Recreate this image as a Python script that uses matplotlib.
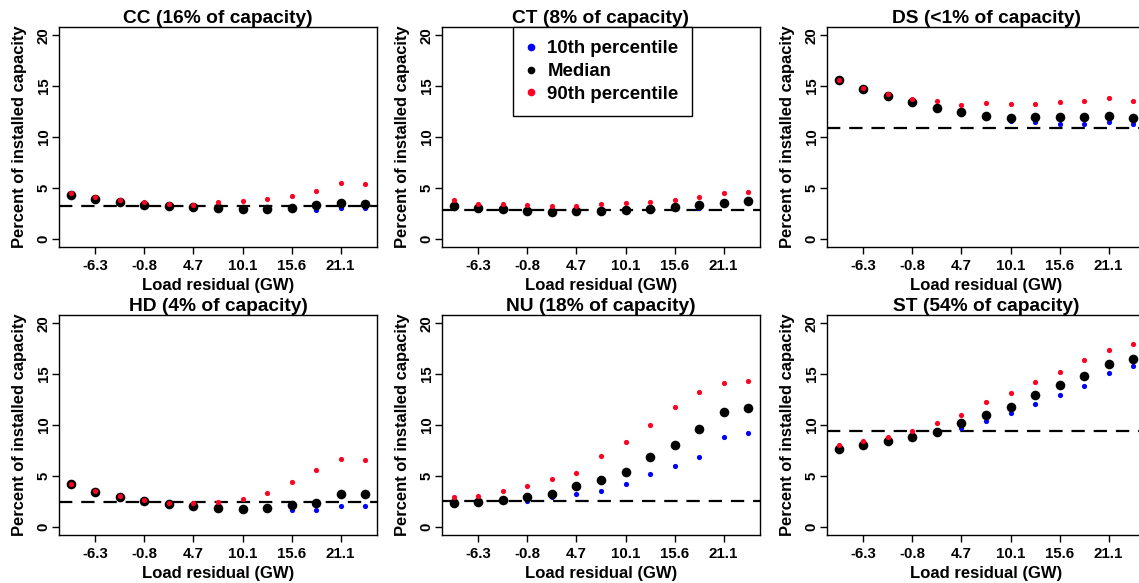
import matplotlib.pyplot as plt
from matplotlib.lines import Line2D
import numpy as np

plt.rcParams['font.family'] = ['Liberation Sans', 'DejaVu Sans']
plt.rcParams['font.weight'] = 'bold'

# x axis: 13 bins of load residual, labelled every other bin
bins = np.arange(1, 14)
tick_pos = [2, 4, 6, 8, 10, 12]
tick_labels = ['-6.3', '-0.8', '4.7', '10.1', '15.6', '21.1']

titles = ['CC (16% of capacity)', 'CT (8% of capacity)', 'DS (<1% of capacity)',
          'HD (4% of capacity)', 'NU (18% of capacity)', 'ST (54% of capacity)']

# percent of installed capacity per bin
cc_p10 = [4.2, 3.85, 3.55, 3.3, 3.15, 3.05, 2.95, 2.85, 2.85, 2.85, 2.85, 3.0, 3.05]
cc_med = [4.3, 3.9, 3.6, 3.35, 3.2, 3.1, 3.0, 2.9, 2.95, 3.05, 3.3, 3.5, 3.45]
cc_p90 = [4.55, 4.1, 3.8, 3.6, 3.45, 3.35, 3.6, 3.7, 3.95, 4.2, 4.7, 5.45, 5.35]
cc_avg = 3.2

ct_p10 = [3.15, 2.95, 2.85, 2.7, 2.6, 2.6, 2.6, 2.7, 2.8, 2.9, 3.0, 3.4, 3.6]
ct_med = [3.25, 3.0, 2.9, 2.75, 2.65, 2.7, 2.75, 2.8, 2.95, 3.1, 3.35, 3.5, 3.7]
ct_p90 = [3.8, 3.45, 3.4, 3.3, 3.2, 3.2, 3.45, 3.55, 3.6, 3.8, 4.1, 4.5, 4.6]
ct_avg = 2.8

ds_p10 = [15.5, 14.7, 14.0, 13.35, 12.8, 12.45, 12.0, 11.6, 11.45, 11.3, 11.25, 11.45, 11.3]
ds_med = [15.6, 14.75, 14.05, 13.4, 12.85, 12.5, 12.1, 11.9, 11.95, 11.95, 12.0, 12.1, 11.9]
ds_p90 = [15.6, 14.8, 14.2, 13.75, 13.5, 13.1, 13.35, 13.2, 13.25, 13.4, 13.55, 13.8, 13.5]
ds_avg = 10.85

hd_p10 = [4.15, 3.35, 2.9, 2.5, 2.15, 2.0, 1.85, 1.75, 1.8, 1.7, 1.65, 2.05, 2.05]
hd_med = [4.2, 3.4, 2.95, 2.55, 2.2, 2.05, 1.9, 1.8, 1.9, 2.15, 2.35, 3.2, 3.2]
hd_p90 = [4.25, 3.5, 3.0, 2.6, 2.35, 2.35, 2.45, 2.7, 3.35, 4.45, 5.6, 6.65, 6.55]
hd_avg = 2.45

nu_p10 = [2.3, 2.35, 2.45, 2.5, 2.9, 3.2, 3.55, 4.2, 5.15, 5.95, 6.9, 8.85, 9.25]
nu_med = [2.35, 2.4, 2.65, 2.95, 3.25, 4.05, 4.6, 5.35, 6.9, 8.05, 9.6, 11.3, 11.7]
nu_p90 = [2.95, 3.05, 3.55, 4.05, 4.65, 5.3, 7.0, 8.35, 10.0, 11.8, 13.2, 14.15, 14.35]
nu_avg = 2.55

st_p10 = [7.55, 7.95, 8.35, 8.75, 9.25, 9.75, 10.35, 11.15, 12.1, 12.95, 13.8, 15.15, 15.75]
st_med = [7.65, 8.0, 8.45, 8.85, 9.35, 10.2, 11.0, 11.75, 12.9, 13.9, 14.85, 15.95, 16.5]
st_p90 = [8.0, 8.4, 8.85, 9.45, 10.15, 10.95, 12.25, 13.15, 14.2, 15.25, 16.35, 17.4, 18.0]
st_avg = 9.45

panels = [(cc_p10, cc_med, cc_p90, cc_avg), (ct_p10, ct_med, ct_p90, ct_avg),
          (ds_p10, ds_med, ds_p90, ds_avg), (hd_p10, hd_med, hd_p90, hd_avg),
          (nu_p10, nu_med, nu_p90, nu_avg), (st_p10, st_med, st_p90, st_avg)]

W, H = 1139, 583
fig = plt.figure(figsize=(W / 100, H / 100), dpi=100)

# axes boxes in pixels: left, top, width, height
lefts = [59, 442, 827]
tops = [27, 315]
bw, bh = 318, 220

blue = '#0000ff'
red = '#ff0022'

for i, (p10, med, p90, avg) in enumerate(panels):
    r, c = divmod(i, 3)
    ax = fig.add_axes([lefts[c] / W, (H - tops[r] - bh) / H, bw / W, bh / H])
    ax.axhline(avg, color='black', lw=1.6, dashes=(6, 4), zorder=1)
    ax.scatter(bins, p10, s=14, color=blue, lw=0, zorder=2)
    ax.scatter(bins, med, s=48, color='black', lw=0, zorder=3)
    ax.scatter(bins, p90, s=14, color=red, lw=0, zorder=4)
    ax.set_xlim(0.52, 13.48)
    ax.set_ylim(-0.8, 20.8)
    ax.set_xticks(tick_pos)
    ax.set_xticklabels(tick_labels)
    ax.set_yticks([0, 5, 10, 15, 20])
    ax.set_yticklabels(['0', '5', '10', '15', '20'], rotation=90, va='center')
    ax.tick_params(axis='x', length=5, width=1, pad=4, labelsize=10.8)
    ax.tick_params(axis='y', length=5, width=1, pad=1, labelsize=10.8)
    for sp in ax.spines.values():
        sp.set_linewidth(1)
    ax.set_title(titles[i], fontsize=13.8, fontweight='bold', pad=3)
    ax.set_xlabel('Load residual (GW)', fontsize=12, fontweight='bold')
    ax.set_ylabel('Percent of installed capacity', fontsize=11.9, fontweight='bold')
    ax.xaxis.set_label_coords(0.5, -0.14)
    ax.yaxis.set_label_coords(-0.10, 0.5)
    if i == 1:
        handles = [Line2D([], [], ls='', marker='o', ms=4.5, color=blue, mec=blue),
                   Line2D([], [], ls='', marker='o', ms=4.5, color='black'),
                   Line2D([], [], ls='', marker='o', ms=4.5, color=red, mec=red)]
        leg = ax.legend(handles, ['10th percentile', 'Median', '90th percentile'],
                        loc='upper left', bbox_to_anchor=(0.222, 1.0), borderaxespad=0,
                        fancybox=False, edgecolor='black', framealpha=1,
                        prop={'size': 13.4, 'weight': 'bold'}, handlelength=0.5,
                        handletextpad=0.65, labelspacing=0.3, borderpad=0.72)
        leg.get_frame().set_linewidth(1)

plt.savefig('out.png', dpi=100)
